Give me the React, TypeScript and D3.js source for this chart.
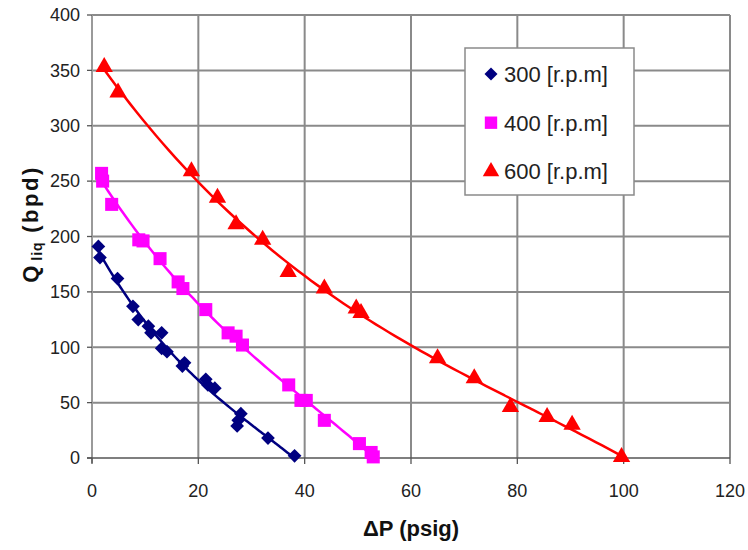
import React from "react";
import * as d3 from "d3";

const rpm300X = [1.2, 1.5, 4.8, 7.7, 8.7, 10.6, 11.1, 13.1, 13.1, 14.1, 17.4, 17.0, 21.4, 21.8, 23.1, 28.0, 27.5, 27.3, 33.1, 38.1];
const rpm300Y = [191, 181, 162, 137, 125, 119, 113, 113, 99, 96, 86, 83, 71, 66, 63, 40, 34, 29, 18, 2];

const rpm400X = [1.8, 2.0, 3.7, 8.8, 9.6, 12.8, 16.2, 17.1, 21.4, 25.6, 27.1, 28.3, 37.0, 39.3, 40.3, 43.7, 50.3, 52.5, 52.9];
const rpm400Y = [257, 250, 229, 197, 196, 180, 159, 153, 134, 113, 110, 102, 66, 52, 52, 34, 13, 5, 1];

const rpm600X = [2.3, 4.9, 18.7, 23.6, 27.1, 32.1, 36.9, 43.7, 49.7, 50.6, 65.0, 71.9, 78.7, 85.6, 90.3, 99.6];
const rpm600Y = [353, 330, 259, 235, 211, 197, 168, 153, 135, 131, 90, 72, 46, 37, 30, 1];

const seriesNames = ["300 [r.p.m]", "400 [r.p.m]", "600 [r.p.m]"];
const xTicks = [0, 20, 40, 60, 80, 100, 120];
const yTicks = [0, 50, 100, 150, 200, 250, 300, 350, 400];

const W = 748, H = 550;
const L = 92, R = 730, T = 15, B = 458;
const FONT = "'Liberation Sans', Arial, sans-serif";

// polynomial least-squares trendline (order 3) from the series data
function polyFit(xs: number[], ys: number[], order: number) {
  const n = order + 1;
  const M: number[][] = [];
  for (let r = 0; r < n; r++) {
    const row: number[] = [];
    for (let c = 0; c < n; c++) row.push(d3.sum(xs, (x) => Math.pow(x, r + c)));
    row.push(d3.sum(xs, (x, i) => ys[i] * Math.pow(x, r)));
    M.push(row);
  }
  for (let i = 0; i < n; i++) {
    for (let k = i + 1; k < n; k++) {
      const f = M[k][i] / M[i][i];
      for (let j = i; j <= n; j++) M[k][j] -= f * M[i][j];
    }
  }
  const c = new Array(n).fill(0);
  for (let i = n - 1; i >= 0; i--) {
    let s = M[i][n];
    for (let j = i + 1; j < n; j++) s -= M[i][j] * c[j];
    c[i] = s / M[i][i];
  }
  return (x: number) => c.reduce((acc, ci, k) => acc + ci * Math.pow(x, k), 0);
}

export default function App() {
  const x = d3.scaleLinear().domain([0, 120]).range([L, R]);
  const y = d3.scaleLinear().domain([0, 400]).range([B, T]);

  const series = [
    { name: seriesNames[0], xs: rpm300X, ys: rpm300Y, color: "#000080", sym: d3.symbolDiamond2, size: 120 },
    { name: seriesNames[1], xs: rpm400X, ys: rpm400Y, color: "#FF00FF", sym: d3.symbolSquare, size: 170 },
    { name: seriesNames[2], xs: rpm600X, ys: rpm600Y, color: "#FF0000", sym: d3.symbolTriangle, size: 130 },
  ];

  const line = d3.line<[number, number]>().x((d) => x(d[0])).y((d) => y(d[1])).curve(d3.curveMonotoneX);

  return (
    <svg width={W} height={H} style={{ position: "absolute", left: 0, top: 0, background: "#fff" }}>
      <rect x={0} y={0} width={W} height={H} fill="#fff" />
      {/* grid */}
      {xTicks.filter((t) => t > 0).map((t) => (
        <line key={"gx" + t} x1={x(t)} x2={x(t)} y1={T} y2={B} stroke="#8a8a8a" strokeWidth={2} />
      ))}
      {yTicks.filter((t) => t > 0).map((t) => (
        <line key={"gy" + t} x1={L} x2={R} y1={y(t)} y2={y(t)} stroke="#8a8a8a" strokeWidth={2} />
      ))}
      {/* axes */}
      <line x1={L} x2={L} y1={T} y2={B + 5} stroke="#9a9a9a" strokeWidth={2} />
      <line x1={L - 5} x2={R} y1={B} y2={B} stroke="#555" strokeWidth={1.3} />
      {yTicks.map((t) => (
        <line key={"ty" + t} x1={L - 5} x2={L} y1={y(t)} y2={y(t)} stroke="#555" strokeWidth={1.3} />
      ))}
      {xTicks.map((t) => (
        <line key={"tx" + t} x1={x(t)} x2={x(t)} y1={B} y2={B + 6} stroke="#555" strokeWidth={1.3} />
      ))}
      {/* tick labels */}
      {yTicks.map((t) => (
        <text key={"ly" + t} x={L - 12} y={y(t)} dy="0.35em" textAnchor="end" fontFamily={FONT} fontSize={18} fill="#222">
          {t}
        </text>
      ))}
      {xTicks.map((t) => (
        <text key={"lx" + t} x={x(t)} y={491} dy="0.35em" textAnchor="middle" fontFamily={FONT} fontSize={18} fill="#222">
          {t}
        </text>
      ))}
      {/* trendlines */}
      {series.map((s) => {
        const f = polyFit(s.xs, s.ys, 3);
        const x0 = d3.min(s.xs) as number;
        const x1 = d3.max(s.xs) as number;
        const pts: [number, number][] = d3.range(0, 81).map((i) => {
          const xv = x0 + ((x1 - x0) * i) / 80;
          return [xv, f(xv)];
        });
        return <path key={"l" + s.name} d={line(pts) || ""} fill="none" stroke={s.color} strokeWidth={2.5} />;
      })}
      {/* markers */}
      {series.map((s) =>
        s.xs.map((xv, i) => (
          <path
            key={s.name + i}
            d={d3.symbol().type(s.sym).size(s.size)() || ""}
            transform={`translate(${x(xv)},${y(s.ys[i])})`}
            fill={s.color}
          />
        ))
      )}
      {/* legend */}
      <rect x={465} y={48} width={169} height={147} fill="#fff" stroke="#8a8a8a" strokeWidth={1.5} />
      {series.map((s, i) => (
        <g key={"lg" + i} transform={`translate(0,${74 + i * 48.7})`}>
          <path d={d3.symbol().type(s.sym).size(s.size * 0.9)() || ""} transform="translate(491,0)" fill={s.color} />
          <text x={504} y={0} dy="0.36em" fontFamily={FONT} fontSize={22} fill="#222">
            {s.name}
          </text>
        </g>
      ))}
      {/* axis titles */}
      <text x={411} y={528} dy="0.35em" textAnchor="middle" fontFamily={FONT} fontSize={22} fontWeight="bold" fill="#111">
        ΔP (psig)
      </text>
      <text
        transform="translate(30,224) rotate(-90)"
        textAnchor="middle"
        fontFamily={FONT}
        fontSize={22}
        fontWeight="bold"
        fill="#111"
        dy="0.35em"
      >
        Q<tspan fontSize={14} dy="4" letterSpacing={1}> liq</tspan>
        <tspan dy="-4" letterSpacing={2.5}> (bpd)</tspan>
      </text>
    </svg>
  );
}
